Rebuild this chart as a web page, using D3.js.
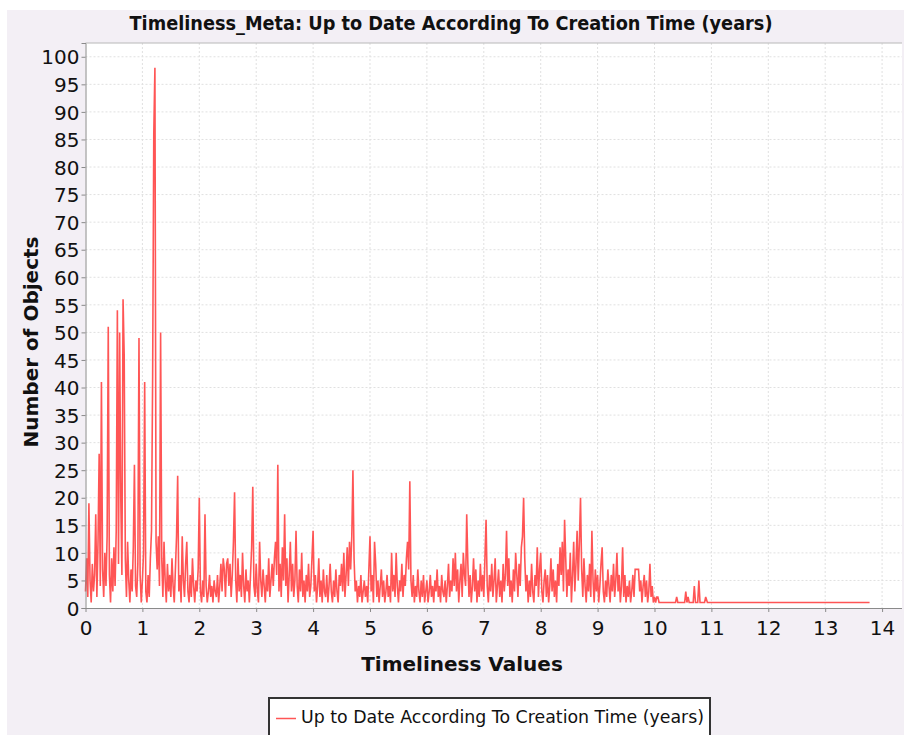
<!DOCTYPE html>
<html>
<head>
<meta charset="utf-8">
<script src="https://cdnjs.cloudflare.com/ajax/libs/d3/7.8.5/d3.min.js"></script>
<style>
  body { margin: 0; background: #fff; }
  svg { display: block; }
</style>
</head>
<body>
<div class="svgContainer"></div>
<script>
const chartTitle = 'Timeliness_Meta: Up to Date According To Creation Time (years)';
const seriesName = 'Up to Date According To Creation Time (years)';
const xTitle = 'Timeliness Values';
const yTitle = 'Number of Objects';

const xTicks = [0, 1, 2, 3, 4, 5, 6, 7, 8, 9, 10, 11, 12, 13, 14];
const yTicks = [0, 5, 10, 15, 20, 25, 30, 35, 40, 45, 50, 55, 60, 65, 70, 75, 80, 85, 90, 95, 100];

// counts sampled every 0.02 years from 0 to 10.1, one row = half a year
const step = 0.02;
const counts = [
  3, 9, 2, 19, 5, 1, 8, 3, 6, 17, 2, 12, 28, 4, 41, 7, 2, 10, 4, 13, 51, 6, 1, 9, 3,
  11, 4, 14, 54, 8, 50, 20, 6, 56, 46, 9, 2, 12, 5, 1, 7, 3, 11, 26, 4, 2, 8, 49, 6, 1,
  5, 10, 41, 3, 1, 6, 2, 9, 14, 42, 86, 98, 12, 7, 13, 4, 50, 9, 2, 12, 5, 1, 8, 3, 6,
  2, 9, 4, 1, 7, 13, 24, 3, 6, 1, 13, 5, 2, 8, 12, 3, 1, 6, 2, 9, 4, 1, 5, 3, 7,
  20, 3, 1, 5, 2, 17, 4, 1, 3, 6, 2, 4, 1, 5, 3, 2, 6, 1, 4, 8, 3, 9, 7, 2, 8,
  9, 4, 8, 2, 6, 12, 21, 5, 1, 9, 3, 6, 2, 10, 4, 1, 7, 3, 5, 1, 6, 11, 22, 4, 2,
  8, 3, 1, 12, 5, 2, 7, 4, 1, 6, 3, 9, 2, 5, 8, 4, 9, 12, 6, 26, 3, 8, 2, 11, 5,
  17, 4, 9, 1, 6, 12, 3, 8, 2, 5, 14, 4, 1, 7, 3, 10, 2, 5, 1, 6, 3, 8, 2, 4, 9,
  14, 3, 6, 1, 4, 9, 2, 5, 1, 7, 3, 2, 6, 1, 4, 8, 3, 1, 5, 2, 7, 3, 1, 6, 4,
  8, 3, 10, 2, 6, 11, 4, 12, 7, 13, 25, 9, 3, 5, 1, 4, 2, 6, 1, 3, 5, 2, 4, 1, 7,
  13, 3, 6, 1, 12, 8, 2, 5, 1, 4, 7, 2, 5, 1, 3, 6, 2, 4, 1, 10, 3, 6, 2, 10, 4,
  1, 5, 3, 8, 2, 6, 4, 9, 12, 7, 23, 5, 2, 6, 1, 4, 2, 7, 3, 1, 5, 2, 6, 1, 3,
  5, 1, 3, 6, 2, 4, 1, 5, 3, 7, 2, 4, 1, 6, 3, 2, 5, 1, 4, 8, 2, 5, 3, 9, 4,
  10, 3, 7, 1, 5, 8, 2, 10, 6, 4, 17, 8, 2, 6, 1, 4, 9, 3, 7, 1, 5, 2, 8, 3, 6,
  2, 9, 16, 4, 1, 6, 3, 8, 2, 5, 9, 1, 4, 7, 2, 5, 1, 8, 3, 6, 14, 4, 9, 2, 5,
  1, 7, 3, 10, 6, 2, 8, 4, 11, 13, 20, 9, 3, 6, 1, 5, 2, 8, 3, 1, 6, 4, 11, 2, 7,
  10, 3, 1, 5, 7, 2, 6, 1, 4, 9, 3, 7, 2, 5, 1, 8, 4, 11, 6, 12, 3, 16, 9, 2, 7,
  4, 10, 1, 6, 12, 3, 8, 14, 5, 12, 20, 7, 2, 9, 4, 1, 6, 3, 8, 2, 14, 5, 1, 7, 3,
  6, 1, 4, 8, 11, 3, 1, 5, 2, 7, 4, 1, 6, 3, 8, 2, 5, 10, 3, 6, 1, 4, 11, 2, 6,
  1, 4, 2, 5, 1, 3, 6, 2, 7, 7, 7, 7, 3, 5, 1, 4, 6, 2, 5, 1, 3, 8, 2, 4, 1,
  2, 1, 2, 2, 1, 1
];

// sparse values after 10 years
const tailX = [10.20, 10.37, 10.39, 10.41, 10.53, 10.55, 10.57, 10.59, 10.61, 10.68, 10.70, 10.72, 10.76, 10.78, 10.80, 10.88, 10.90, 10.93, 13.78];
const tailY = [1, 1, 2, 1, 1, 3, 1, 2, 1, 1, 4, 1, 1, 5, 1, 1, 2, 1, 1];

const width = 904;
const height = 735;
const plot = {left: 85.5, right: 902, top: 43, bottom: 608};
const lineColor = '#ff5555';

const data = counts.map((v, i) => ({x: i * step, y: v}))
  .concat(tailX.map((x, i) => ({x: x, y: tailY[i]})));

const svg = d3.select('.svgContainer').append('svg')
  .attr('width', width)
  .attr('height', height);

// panel background
svg.append('rect')
  .attr('x', 7).attr('y', 10)
  .attr('width', width - 7).attr('height', height - 10)
  .attr('fill', '#f3eff5');

svg.append('rect')
  .attr('x', plot.left).attr('y', plot.top)
  .attr('width', plot.right - plot.left).attr('height', plot.bottom - plot.top)
  .attr('fill', '#ffffff');

const scaleX = d3.scaleLinear()
  .domain([0, 14.35])
  .range([plot.left, plot.right]);

const scaleY = d3.scaleLinear()
  .domain([0, 102.5])
  .range([plot.bottom, plot.top]);

// grid lines
const grid = svg.append('g').attr('class', 'grid');
grid.selectAll('line.gx')
  .data(xTicks.slice(1))
  .enter().append('line')
  .attr('class', 'gx')
  .attr('x1', d => scaleX(d)).attr('x2', d => scaleX(d))
  .attr('y1', plot.top).attr('y2', plot.bottom);
grid.selectAll('line.gy')
  .data(yTicks.slice(1))
  .enter().append('line')
  .attr('class', 'gy')
  .attr('x1', plot.left).attr('x2', plot.right)
  .attr('y1', d => scaleY(d)).attr('y2', d => scaleY(d));
grid.selectAll('line')
  .attr('stroke', '#e0e0e0')
  .attr('stroke-width', 1)
  .attr('stroke-dasharray', '2,2');

// top border of the plot
svg.append('line')
  .attr('x1', plot.left).attr('x2', plot.right)
  .attr('y1', plot.top).attr('y2', plot.top)
  .attr('stroke', '#b8b8b8');

// series
const line = d3.line()
  .x(d => scaleX(d.x))
  .y(d => scaleY(d.y));

svg.append('path')
  .datum(data)
  .attr('fill', 'none')
  .attr('stroke', lineColor)
  .attr('stroke-width', 1.6)
  .attr('stroke-linejoin', 'miter')
  .attr('d', line);

// axes
const xAxis = d3.axisBottom(scaleX).tickValues(xTicks).tickSize(4).tickFormat(d3.format('d'));
const yAxis = d3.axisLeft(scaleY).tickValues(yTicks).tickSize(4).tickPadding(2).tickFormat(d3.format('d'));

const gx = svg.append('g')
  .attr('transform', 'translate(0,' + plot.bottom + ')')
  .call(xAxis);
gx.select('.domain').attr('d', 'M' + plot.left + ',0.5H' + plot.right);
gx.selectAll('text').attr('y', 27).attr('dy', 0);

const gy = svg.append('g')
  .attr('transform', 'translate(' + plot.left + ',0)')
  .call(yAxis);
gy.selectAll('text').attr('dy', '0.36em');

svg.selectAll('.domain, .tick line').attr('stroke', '#8a8a8a');
svg.selectAll('.tick text')
  .attr('fill', '#111')
  .style('font-family', '"DejaVu Sans", sans-serif')
  .style('font-size', '20px');

// titles
svg.append('text')
  .attr('x', 451).attr('y', 30)
  .attr('text-anchor', 'middle')
  .attr('textLength', 643)
  .attr('lengthAdjust', 'spacingAndGlyphs')
  .style('font-family', '"DejaVu Sans Condensed", "DejaVu Sans", sans-serif')
  .style('font-weight', 'bold')
  .style('font-size', '19px')
  .attr('fill', '#111')
  .text(chartTitle);

svg.append('text')
  .attr('x', 462).attr('y', 671)
  .attr('text-anchor', 'middle')
  .style('font-family', '"DejaVu Sans", sans-serif')
  .style('font-weight', 'bold')
  .style('font-size', '20px')
  .attr('fill', '#111')
  .text(xTitle);

svg.append('text')
  .attr('transform', 'translate(38,342) rotate(-90)')
  .attr('text-anchor', 'middle')
  .style('font-family', '"DejaVu Sans", sans-serif')
  .style('font-weight', 'bold')
  .style('font-size', '20px')
  .attr('fill', '#111')
  .text(yTitle);

// legend
const legend = svg.append('g');
legend.append('rect')
  .attr('x', 269).attr('y', 698)
  .attr('width', 441).attr('height', 50)
  .attr('fill', '#ffffff')
  .attr('stroke', '#333')
  .attr('stroke-width', 2);
legend.append('line')
  .attr('x1', 276).attr('x2', 296)
  .attr('y1', 718.5).attr('y2', 718.5)
  .attr('stroke', lineColor)
  .attr('stroke-width', 1.5);
legend.append('text')
  .attr('x', 301).attr('y', 723)
  .attr('textLength', 403)
  .attr('lengthAdjust', 'spacingAndGlyphs')
  .style('font-family', '"DejaVu Sans", sans-serif')
  .style('font-size', '17.5px')
  .attr('fill', '#111')
  .text(seriesName);
</script>
</body>
</html>
